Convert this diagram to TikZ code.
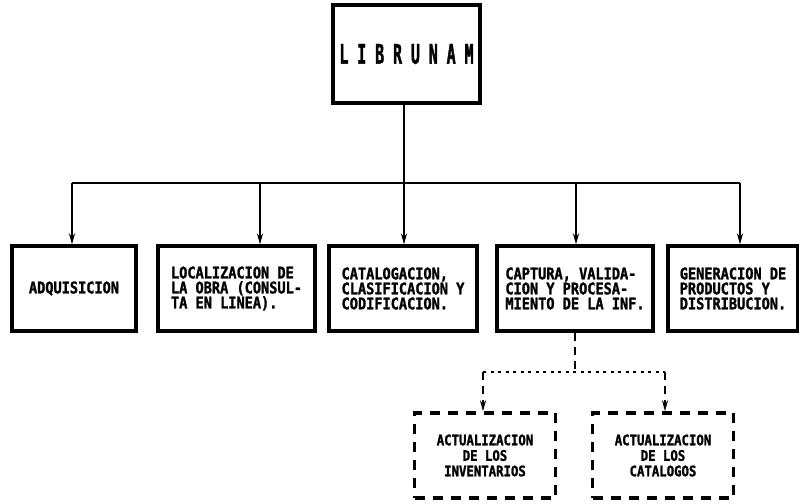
\documentclass[tikz,border=0pt]{standalone}
\usepackage{fontspec}
\newfontfamily\prn{DejaVu Sans Mono}[FakeStretch=0.85,FakeBold=1.5]
\newfontfamily\prnalto{DejaVu Sans Mono}[FakeStretch=0.55,FakeBold=1.5]
\usetikzlibrary{arrows.meta}

\begin{document}
\begin{tikzpicture}[x=1pt,y=-1pt,>={Stealth[length=11pt,width=6pt]},
    caja/.style={draw,line width=3.2pt,inner sep=0pt,
      font=\prn\bfseries\fontsize{16}{15}\selectfont},
    cajad/.style={caja,line width=3.4pt,dash pattern=on 10pt off 8pt,align=center,
      minimum width=141pt,minimum height=85pt,
      font=\prn\bfseries\fontsize{14.5}{15.5}\selectfont},
    liga/.style={line width=2pt},
    ligad/.style={line width=2.2pt,dash pattern=on 8pt off 6pt},
    ligap/.style={line width=2.4pt,dash pattern=on 3pt off 4.5pt}]
    \useasboundingbox (0,0) rectangle (799,503);
    \def\yb{288.5}
    
    % caja principal
    \node[caja,minimum width=147pt,minimum height=98pt,font=\prnalto\bfseries\fontsize{27}{27}\selectfont]
      (libr) at (406.5,54) {L I B R U N A M};
    
    % modulos
    \node[caja,minimum width=124pt,minimum height=85pt] (adq) at (74,\yb) {ADQUISICION};
    \node[caja,minimum width=157pt,minimum height=85pt,align=left] (loc) at (236.5,\yb)
      {LOCALIZACION DE\\LA OBRA (CONSUL-\\TA EN LINEA).};
    \node[caja,minimum width=148pt,minimum height=85pt,align=left] (cat) at (403,\yb)
      {CATALOGACION,\\CLASIFICACION Y\\CODIFICACION.};
    \node[caja,minimum width=156pt,minimum height=85pt,align=left] (cap) at (575,\yb)
      {CAPTURA, VALIDA-\\CION Y PROCESA-\\MIENTO DE LA INF.};
    \node[caja,minimum width=130pt,minimum height=85pt,align=left] (gen) at (733,\yb)
      {GENERACION DE\\PRODUCTOS Y\\DISTRIBUCION.};
    
    % actualizaciones
    \node[cajad] (inv) at (485,455.5) {ACTUALIZACION\\DE LOS\\INVENTARIOS};
    \node[cajad] (ctl) at (663,455.5) {ACTUALIZACION\\DE LOS\\CATALOGOS};
    
    % bus
    \coordinate (b1) at (72,183);
    \coordinate (b2) at (260,183);
    \coordinate (b3) at (404,183);
    \coordinate (b4) at (576,183);
    \coordinate (b5) at (740,183);
    \draw[liga] (libr.south -| b3) -- (b3);
    \draw[liga] (b1) -- (b5);
    \draw[liga,->] (b1) -- (b1 |- adq.north);
    \draw[liga,->] (b2) -- (b2 |- loc.north);
    \draw[liga,->] (b3) -- (b3 |- cat.north);
    \draw[liga,->] (b4) -- (b4 |- cap.north);
    \draw[liga,->] (b5) -- (b5 |- gen.north);
    
    % ramal punteado
    \coordinate (d0) at (575,372);
    \coordinate (d1) at (483,372);
    \coordinate (d2) at (665,372);
    \draw[ligad] (cap.south) -- (d0);
    \draw[ligap] (d1) -- (d2);
    \draw[ligad,->] (d1) -- (d1 |- inv.north);
    \draw[ligad,->] (d2) -- (d2 |- ctl.north);
\end{tikzpicture}
\end{document}
